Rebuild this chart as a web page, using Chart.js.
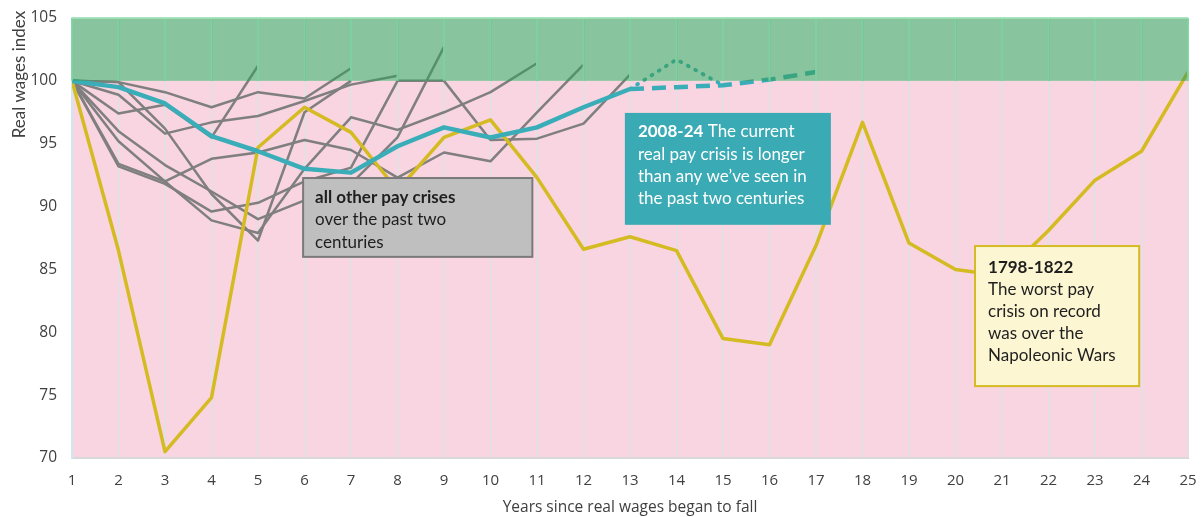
<!DOCTYPE html>
<html>
<head>
<meta charset="utf-8">
<script src="https://cdn.jsdelivr.net/npm/chart.js@4.4.1/dist/chart.umd.min.js"></script>
<style>
html,body{margin:0;padding:0;background:#ffffff;}
#wrap{width:1203px;height:517px;position:relative;}
</style>
</head>
<body>
<div id="wrap"><canvas id="c" width="1203" height="517"></canvas></div>
<script>
// ---------- DATA ----------
const years = [1,2,3,4,5,6,7,8,9,10,11,12,13,14,15,16,17,18,19,20,21,22,23,24,25];
const yTicks = [70,75,80,85,90,95,100,105];

// 1798-1822 (Napoleonic Wars)
const crisis1798 = [100, 86.5, 70.5, 74.8, 94.7, 97.9, 95.9, 91.3, 95.5, 96.9, 92.3, 86.6, 87.6,
                    86.5, 79.5, 79.0, 86.9, 96.7, 87.1, 85.0, 84.5, 88.1, 92.1, 94.4, 100.7];

// 2008-24 (current crisis), actual years 1..13
const crisis2008 = [100, 99.5, 98.2, 95.6, 94.4, 93.0, 92.7, 94.8, 96.3, 95.5, 96.3, 97.9, 99.35];
// projections, starting at year 13
const projStartYear = 13;
const crisis2008Dashed = [99.35, 99.5, 99.65, 100.1, 100.7];
const crisis2008Dotted = [99.35, 101.7, 99.65];

// all other pay crises (each starts at year 1)
const other1 = [100, 99.9, 99.1, 97.9, 99.1, 98.6, 101.0];
const other2 = [100, 98.9, 95.8, 96.7, 97.2, 98.4, 99.7, 100.4];
const other3 = [100, 97.4, 98.1, 95.5, 101.2];
const other4 = [100, 99.9, 96.2, 91.0, 87.3, 97.5, 100.0];
const other5 = [100, 93.2, 91.8, 89.6, 90.3, 92.0, 93.1, 100.0, 100.0, 95.3, 95.4, 96.6, 100.5];
const other6 = [100, 93.4, 92.0, 88.9, 87.9, 93.0, 97.1, 96.1, 97.5, 99.1, 101.4];
const other7 = [100, 96.0, 93.3, 91.2, 89.0, 90.5, 91.8, 95.5, 102.7];
const other8 = [100, 95.2, 92.0, 93.8, 94.3, 95.3, 94.5, 92.3, 94.3, 93.6, 97.5, 101.3];
const otherCrises = [other1, other2, other3, other4, other5, other6, other7, other8];

const xTitle = 'Years since real wages began to fall';
const yTitle = 'Real wages index';

// ---------- STYLE ----------
const FONT = '"Open Sans", "Noto Sans", "DejaVu Sans", sans-serif';
const NOTE_FONT = 'Lato, "Open Sans", sans-serif';
const TXT = '#404040';
const PINK = '#f9d4e1';
const GREEN_OVERLAY = 'rgba(57,157,92,0.6)';
const YELLOW = '#d4bb22';
const TEAL = '#3aaeb8';
const GRAY = '#7f7f7f';

function pts(arr, start) {
  return arr.map((v, i) => ({x: years[start - 1 + i], y: v}));
}

const datasets = [];
datasets.push({label:'2008-24', data: pts(crisis2008, 1), borderColor: TEAL, borderWidth: 4.5, order: 0});
datasets.push({label:'2008-24 projection', data: pts(crisis2008Dashed, projStartYear), borderColor: TEAL, borderWidth: 4.5, borderDash:[14,8], order: 1});
datasets.push({label:'2008-24 alt projection', data: pts(crisis2008Dotted, projStartYear), borderColor: TEAL, borderWidth: 3.8, borderDash:[1,7.5], borderCapStyle:'round', order: 1});
datasets.push({label:'1798-1822', data: pts(crisis1798, 1), borderColor: YELLOW, borderWidth: 3.5, order: 2});
otherCrises.forEach((s, i) => datasets.push({label:'other ' + (i+1), data: pts(s, 1), borderColor: GRAY, borderWidth: 2.5, order: 3}));

// annotation boxes, anchored in data units
const notes = [
  {x0: 5.97, x1: 10.9, y0: 92.27, y1: 86.0, fill:'#bfbfbf', stroke:'#7a7a7a', color:'#1e1e1e',
   padX: 12, firstOff: 19, lh: 22.5,
   lines: [[{t:'all other pay crises', b:true}], [{t:'over the past two'}], [{t:'centuries'}]]},
  {x0: 12.89, x1: 17.32, y0: 97.45, y1: 88.55, fill:'#3aaab4', stroke:null, color:'#ffffff',
   padX: 13, firstOff: 19, lh: 22.3,
   lines: [[{t:'2008-24', b:true},{t:' The current'}], [{t:'real pay crisis is longer'}], [{t:'than any we\u2019ve seen in'}], [{t:'the past two centuries'}]]},
  {x0: 20.42, x1: 23.95, y0: 86.86, y1: 75.72, fill:'#fdf6d2', stroke:'#d4bb22', color:'#1e1e1e',
   padX: 13, firstOff: 21, lh: 22,
   lines: [[{t:'1798-1822', b:true}], [{t:'The worst pay'}], [{t:'crisis on record'}], [{t:'was over the'}], [{t:'Napoleonic Wars'}]]}
];
const NOTE_SIZE = 17;

const bgPlugin = {
  id: 'bg',
  beforeDraw(chart) {
    const {ctx, chartArea: a, scales: {y}} = chart;
    ctx.save();
    ctx.fillStyle = PINK;
    const y100 = y.getPixelForValue(100);
    ctx.fillRect(a.left, y100, a.right - a.left, a.bottom - y100);
    ctx.restore();
  },
  afterDatasetsDraw(chart) {
    const {ctx, chartArea: a, scales: {x, y}} = chart;
    const yTop = y.getPixelForValue(105), y100 = y.getPixelForValue(100);
    ctx.save();
    ctx.fillStyle = GREEN_OVERLAY;
    ctx.fillRect(a.left, yTop, a.right - a.left, y100 - yTop);
    ctx.strokeStyle = 'rgba(125,212,160,0.9)';
    ctx.lineWidth = 2;
    years.forEach(v => {
      const px = x.getPixelForValue(v);
      ctx.beginPath(); ctx.moveTo(px, yTop); ctx.lineTo(px, y100); ctx.stroke();
    });
    ctx.strokeStyle = 'rgba(160,225,185,0.9)';
    ctx.beginPath(); ctx.moveTo(a.left, yTop); ctx.lineTo(a.right, yTop); ctx.stroke();
    ctx.restore();
  },
  afterDraw(chart) {
    const {ctx, scales: {x, y}} = chart;
    ctx.save();
    // y-axis title, placed near the top like the original
    ctx.translate(20, y.getPixelForValue(100.5));
    ctx.rotate(-Math.PI / 2);
    ctx.font = '17px Lato, ' + FONT;
    ctx.fillStyle = TXT;
    ctx.textAlign = 'center';
    ctx.textBaseline = 'middle';
    ctx.fillText(yTitle, 0, 0);
    ctx.restore();

    ctx.save();
    notes.forEach(n => {
      const L = x.getPixelForValue(n.x0), R = x.getPixelForValue(n.x1);
      const T = y.getPixelForValue(n.y0), B = y.getPixelForValue(n.y1);
      ctx.fillStyle = n.fill;
      ctx.fillRect(L, T, R - L, B - T);
      if (n.stroke) {
        ctx.strokeStyle = n.stroke; ctx.lineWidth = 2;
        ctx.strokeRect(L, T, R - L, B - T);
      }
      ctx.fillStyle = n.color;
      ctx.textBaseline = 'middle';
      ctx.textAlign = 'left';
      n.lines.forEach((line, i) => {
        let cx = L + n.padX;
        const cy = T + n.firstOff + i * n.lh;
        line.forEach(seg => {
          ctx.font = (seg.b ? 'bold ' : '') + NOTE_SIZE + 'px ' + NOTE_FONT;
          ctx.fillText(seg.t, cx, cy);
          cx += ctx.measureText(seg.t).width;
        });
      });
    });
    ctx.restore();
  }
};

new Chart(document.getElementById('c'), {
  type: 'line',
  data: { datasets },
  options: {
    responsive: false,
    animation: false,
    devicePixelRatio: 1,
    layout: { padding: { top: 18, right: 15, bottom: 0, left: 0 } },
    plugins: { legend: { display: false }, tooltip: { enabled: false } },
    elements: {
      point: { radius: 0, hoverRadius: 0 },
      line: { tension: 0, borderJoinStyle: 'round', borderCapStyle: 'butt', fill: false }
    },
    scales: {
      x: {
        type: 'linear', min: 1, max: 25,
        afterBuildTicks: s => { s.ticks = years.map(v => ({value: v})); },
        afterFit: s => { s.height = 59; s.paddingLeft = 0; s.paddingRight = 0; },
        grid: { color: '#e4dfe3', lineWidth: 2, drawTicks: false },
        border: { display: true, color: '#d9d9d9', width: 2 },
        ticks: { color: TXT, font: { family: FONT, size: 15 }, padding: 14, autoSkip: false, maxRotation: 0 },
        title: { display: true, text: xTitle, color: TXT,
                 font: { family: FONT, size: 15.5 }, padding: { top: 0, bottom: 0 } }
      },
      y: {
        min: 70, max: 105,
        afterBuildTicks: s => { s.ticks = yTicks.map(v => ({value: v})); },
        afterFit: s => { s.width = 72; s.paddingTop = 0; s.paddingBottom = 0; },
        grid: { display: false, drawTicks: false },
        border: { display: true, color: '#cbe9ef', width: 2 },
        ticks: { color: TXT, font: { family: FONT, size: 15.5 }, padding: 15 },
        title: { display: false }
      }
    }
  },
  plugins: [bgPlugin]
});
</script>
</body>
</html>
